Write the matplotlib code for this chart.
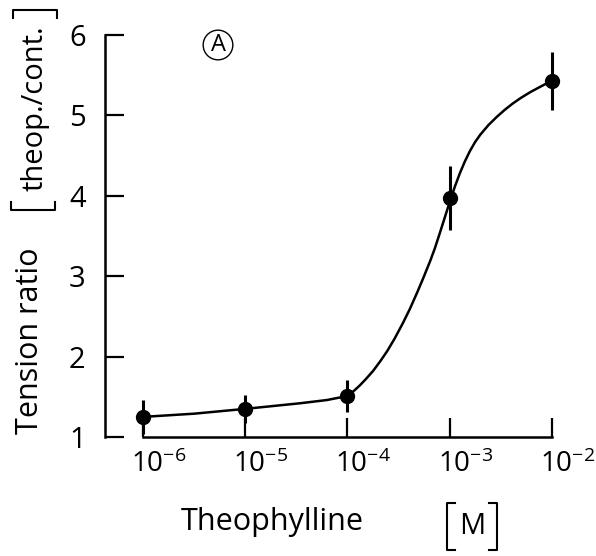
import numpy as np
import matplotlib.pyplot as plt
from matplotlib.ticker import NullLocator
from matplotlib.transforms import ScaledTranslation
from matplotlib.lines import Line2D

plt.rcParams['font.family'] = ['Open Sans', 'DejaVu Sans']
plt.rcParams['mathtext.fontset'] = 'custom'
plt.rcParams['mathtext.rm'] = 'Open Sans'
plt.rcParams['mathtext.it'] = 'Open Sans'
plt.rcParams['mathtext.bf'] = 'Open Sans'

# theophylline concentration (M) and tension ratio theop./cont.
conc = [1e-6, 1e-5, 1e-4, 1e-3, 1e-2]
ratio = [1.25, 1.35, 1.51, 3.97, 5.43]
ratio_err = [0.21, 0.17, 0.20, 0.40, 0.36]

# hand-drawn fitted curve (log10 conc, ratio)
fit_logc = [-6.0, -5.5, -5.0, -4.46, -4.2, -4.0, -3.94, -3.88, -3.82, -3.75,
            -3.68, -3.61, -3.54, -3.46, -3.39, -3.32, -3.26, -3.19, -3.145,
            -3.10, -3.05, -3.0, -2.95, -2.9, -2.85, -2.8, -2.75, -2.7, -2.62,
            -2.54, -2.46, -2.38, -2.30, -2.21, -2.1, -2.0]
fit_ratio = [1.25, 1.29, 1.35, 1.42, 1.46, 1.51, 1.57, 1.64, 1.72, 1.82,
             1.94, 2.07, 2.22, 2.41, 2.59, 2.79, 2.97, 3.19, 3.345,
             3.52, 3.72, 3.92, 4.11, 4.28, 4.43, 4.56, 4.67, 4.76, 4.88,
             4.98, 5.07, 5.15, 5.22, 5.29, 5.365, 5.43]

x_labels = [r'$10^{-6}$', r'$10^{-5}$', r'$10^{-4}$', r'$10^{-3}$', r'$10^{-2}$']
y_ticks = [1, 2, 3, 4, 5, 6]

W, H = 596, 556
fig = plt.figure(figsize=(W / 100, H / 100), dpi=100)


def px(x, y):
    return x / W, 1 - y / H


ax = fig.add_axes([105 / W, 1 - 437 / H, 455 / W, 402 / H])
ax.set_xscale('log')
ax.set_xlim(10 ** -6.372, 10 ** -1.92)
ax.set_ylim(1, 6)

ax.plot(10 ** np.array(fit_logc), fit_ratio, color='k', lw=1.8,
        solid_joinstyle='round', clip_on=False)
ax.errorbar(conc, ratio, yerr=ratio_err, fmt='o', color='k', ms=10,
            elinewidth=2.2, capsize=0, clip_on=False)

for side in ('top', 'right'):
    ax.spines[side].set_visible(False)
ax.spines['left'].set_bounds(1, 6)
ax.spines['bottom'].set_bounds(conc[0], conc[-1])
ax.spines['left'].set_linewidth(1.8)
ax.spines['bottom'].set_linewidth(1.8)

ax.set_xticks(conc)
ax.set_xticklabels(x_labels)
ax.xaxis.set_minor_locator(NullLocator())
ax.set_yticks(y_ticks)
ax.tick_params(direction='in', length=14, width=1.6)
ax.tick_params(axis='x', pad=10, labelsize=20)
ax.tick_params(axis='y', pad=14, labelsize=21)

# decade labels start just left of their tick
shift = ScaledTranslation(-12 / 100, 0, fig.dpi_scale_trans)
for lab in ax.get_xticklabels():
    lab.set_horizontalalignment('left')
    lab.set_transform(lab.get_transform() + shift)

# axis titles
fig.text(*px(272, 530), 'Theophylline', fontsize=22, ha='center', va='baseline')
fig.text(*px(472, 527), 'M', fontsize=21, ha='center', va='center')
fig.text(*px(30, 341), 'Tension ratio', fontsize=22, rotation=90,
         ha='center', va='center')
fig.text(*px(35, 108), 'theop./cont.', fontsize=21, rotation=90,
         ha='center', va='center')

# square brackets around the units
def bracket(points):
    xs, ys = zip(*[px(x, y) for x, y in points])
    fig.add_artist(Line2D(xs, ys, color='k', lw=1.5, transform=fig.transFigure))


bracket([(455, 503), (447, 503), (447, 550), (455, 550)])
bracket([(489, 503), (497, 503), (497, 550), (489, 550)])
bracket([(11, 202), (11, 210), (55, 210), (55, 202)])
bracket([(13, 18), (13, 10), (57, 10), (57, 18)])

# panel letter
fig.text(*px(218, 45), 'A', fontsize=17, ha='center', va='center',
         bbox=dict(boxstyle='circle,pad=0.12', fc='none', ec='k', lw=1.0))

fig.savefig('out.png', dpi=100)
